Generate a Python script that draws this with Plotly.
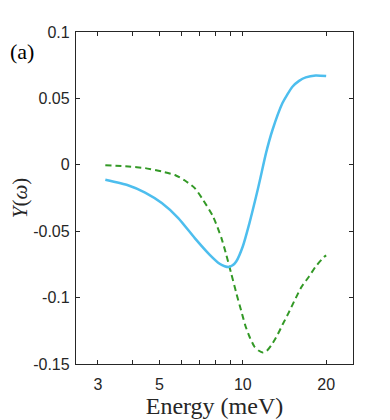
"""
Y(omega) vs energy, panel (a): solid blue and dashed green curves on a log energy axis.
"""

import math

import plotly.graph_objects as go

# blue solid curve
energy_blue = [3.19, 3.87, 4.44, 5.10, 5.85, 6.71, 7.60, 8.25, 8.60, 8.91, 9.19,
               9.47, 10.0, 10.57, 11.17, 11.54, 12.13, 12.81, 13.91, 14.46, 15.11,
               15.97, 16.88, 18.33, 20.0]
y_blue = [-0.0113, -0.0156, -0.0209, -0.0288, -0.0401, -0.0552, -0.0678, -0.0745,
          -0.0764, -0.0770, -0.0757, -0.0728, -0.0615, -0.0439, -0.0239, -0.0113,
          0.0088, 0.0264, 0.0465, 0.0527, 0.0588, 0.0632, 0.0658, 0.0672, 0.0668]

# green dashed curve
energy_green = [3.19, 3.87, 4.44, 5.10, 5.69, 6.18, 6.71, 7.19, 7.81, 8.37, 8.72,
                9.09, 9.47, 9.87, 10.22, 10.57, 11.01, 11.40, 11.80, 12.20, 12.64,
                13.35, 13.91, 14.62, 15.32, 16.33, 17.35, 18.33, 19.63, 20.0]
y_green = [-0.0004, -0.0013, -0.0025, -0.0050, -0.0077, -0.0118, -0.0176, -0.0264,
           -0.0389, -0.0550, -0.0678, -0.0821, -0.0964, -0.1099, -0.1212, -0.1293,
           -0.1368, -0.1398, -0.1413, -0.1401, -0.1363, -0.1280, -0.1205, -0.1117,
           -0.1029, -0.0916, -0.0841, -0.0766, -0.0695, -0.0682]

x_tickvals = [3, 4, 5, 6, 7, 8, 9, 10, 20]
x_ticktext = ["3", "", "5", "", "", "", "", "10", "20"]
y_tickvals = [-0.15, -0.1, -0.05, 0, 0.05, 0.1]
y_ticktext = ["-0.15", "-0.1", "-0.05", "0", "0.05", "0.1"]

axis_col = "#262626"

fig = go.Figure()
fig.add_trace(
    go.Scatter(
        x=energy_green, y=y_green, mode="lines",
        line=dict(color="#339926", width=2, dash="6px,4px", shape="spline", smoothing=0.6),
        showlegend=False,
    )
)
fig.add_trace(
    go.Scatter(
        x=energy_blue, y=y_blue, mode="lines",
        line=dict(color="#4DBEEE", width=2.5, shape="spline", smoothing=0.6),
        showlegend=False,
    )
)

# page body has an 8px margin, so the figure is 8px smaller than the window
fig.update_layout(
    width=382,
    height=412,
    margin=dict(l=68, r=37, t=24, b=56),
    paper_bgcolor="white",
    plot_bgcolor="white",
    font=dict(family="Liberation Sans", size=16, color=axis_col),
)
fig.update_xaxes(
    type="log",
    range=[math.log10(2.5), math.log10(25)],
    tickvals=x_tickvals,
    ticktext=x_ticktext,
    ticks="inside",
    ticklen=4,
    tickcolor=axis_col,
    ticklabelstandoff=6,
    showline=True,
    linecolor=axis_col,
    linewidth=1.3,
    mirror="ticks",
    showgrid=False,
    zeroline=False,
    automargin=False,
    title=dict(text="Energy (meV)", font=dict(family="Liberation Serif", size=24), standoff=0),
)
fig.update_yaxes(
    range=[-0.15, 0.1],
    tickvals=y_tickvals,
    ticktext=y_ticktext,
    ticks="inside",
    ticklen=4,
    tickcolor=axis_col,
    ticklabelstandoff=2,
    showline=True,
    linecolor=axis_col,
    linewidth=1.3,
    mirror="ticks",
    showgrid=False,
    zeroline=False,
    automargin=False,
    title=dict(text="<i>Y</i>(<i>ω</i>)", font=dict(family="Liberation Serif", size=21), standoff=6),
)
fig.add_annotation(
    text="(a)", xref="paper", yref="paper", x=-0.2455, y=0.94,
    xanchor="left", yanchor="middle", showarrow=False,
    font=dict(family="Liberation Serif", size=22, color="black"),
)

fig.write_html("out.html")
